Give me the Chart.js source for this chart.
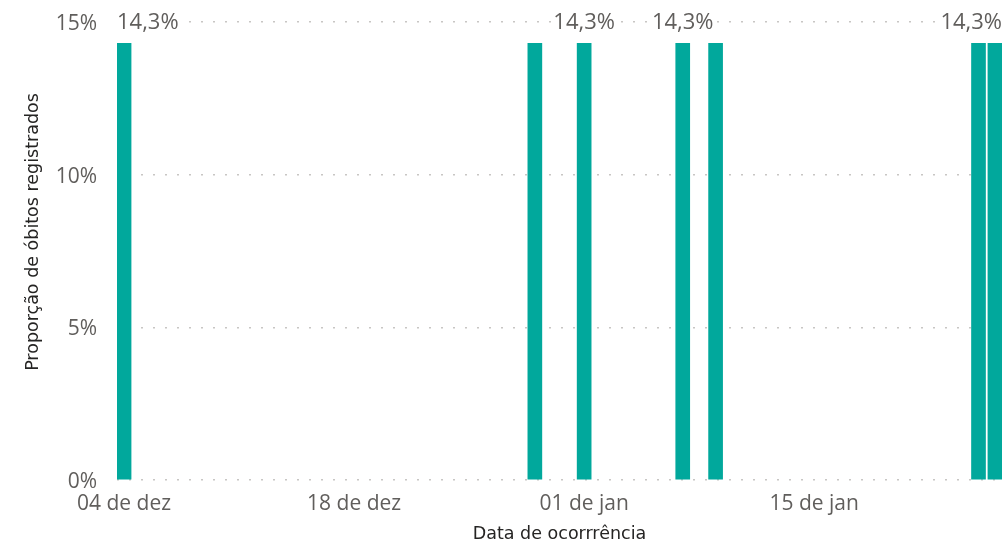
<!DOCTYPE html>
<html>
<head>
<meta charset="utf-8">
<script src="https://cdn.jsdelivr.net/npm/chart.js@4"></script>
<style>
  html, body { margin: 0; padding: 0; background: #fff; }
  #box { width: 1005px; height: 541px; }
</style>
</head>
<body>
<div id="box"><canvas id="myChart"></canvas></div>
<script>
// datas de ocorrência e proporção de óbitos (%)
const datas = ['2020-12-04', '2020-12-29', '2021-01-01', '2021-01-07', '2021-01-09', '2021-01-25', '2021-01-26']
const proporcao = [14.3, 14.3, 14.3, 14.3, 14.3, 14.3, 14.3]
// quais barras mostram o rótulo (o resto some por sobreposição)
const mostraRotulo = [true, false, true, true, false, false, true]

// marcas do eixo x
const ticksX = ['2020-12-04', '2020-12-18', '2021-01-01', '2021-01-15']
const ticksXLabels = ['04 de dez', '18 de dez', '01 de jan', '15 de jan']
const ticksY = [0, 5, 10, 15]
const tituloY = 'Proporção de óbitos registrados'

// dias desde a primeira data
function dias(d) {
  const base = Date.parse(datas[0] + 'T00:00:00Z')
  return Math.round((Date.parse(d + 'T00:00:00Z') - base) / 86400000)
}

const pontos = datas.map((d, i) => ({ x: dias(d), y: proporcao[i] }))
const posTicks = ticksX.map(dias)
const ultimo = dias(datas[datas.length - 1])

// rótulos de dados com fundo branco, presos dentro da área do gráfico
const rotulos = {
  id: 'rotulos',
  afterDatasetsDraw(chart) {
    const ctx = chart.ctx
    const area = chart.chartArea
    const meta = chart.getDatasetMeta(0)
    ctx.save()
    ctx.font = '22px "Open Sans"'
    ctx.textAlign = 'left'
    ctx.textBaseline = 'middle'
    meta.data.forEach((bar, i) => {
      if (!mostraRotulo[i]) return
      const txt = proporcao[i].toFixed(1).replace('.', ',') + '%'
      const w = ctx.measureText(txt).width
      let x = bar.x - w / 2
      if (x < area.left) x = area.left
      if (x + w > area.right) x = area.right - w
      const y = bar.y - 21
      ctx.fillStyle = '#fff'
      ctx.fillRect(x - 2, y - 9, w + 4, 18)
      ctx.fillStyle = '#605E5C'
      ctx.fillText(txt, x, y)
    })
    // título do eixo y (um pouco acima do centro, como no original)
    ctx.translate(33, 232)
    ctx.rotate(-Math.PI / 2)
    ctx.font = '17.5px "DejaVu Sans"'
    ctx.textAlign = 'center'
    ctx.fillStyle = '#252423'
    ctx.fillText(tituloY, 0, 0)
    ctx.restore()
  }
}

const ctx = document.getElementById('myChart').getContext('2d')

new Chart(ctx, {
  type: 'bar',
  data: {
    datasets: [
      {
        label: tituloY,
        data: pontos,
        backgroundColor: '#01A89C',
        barThickness: 14
      }
    ]
  },
  options: {
    responsive: true,
    maintainAspectRatio: false,
    animation: false,
    layout: { padding: { top: 22, right: 3, left: 0, bottom: 0 } },
    plugins: {
      legend: { display: false },
      tooltip: { enabled: false }
    },
    scales: {
      x: {
        type: 'linear',
        offset: false,
        min: -0.43,
        max: ultimo + 0.43,
        grid: { display: false, drawTicks: false, offset: false },
        border: { display: false },
        afterBuildTicks(scale) {
          scale.ticks = posTicks.map(v => ({ value: v }))
        },
        afterFit(scale) { scale.height = 61 },
        ticks: {
          padding: 11,
          maxRotation: 0,
          autoSkip: false,
          color: '#605E5C',
          font: { family: 'Open Sans', size: 21 },
          callback: (v) => ticksXLabels[posTicks.indexOf(v)]
        },
        title: {
          display: true,
          text: 'Data de ocorrrência',
          color: '#252423',
          font: { family: 'DejaVu Sans', size: 17.5 },
          padding: { top: 0, bottom: -4 }
        }
      },
      y: {
        min: 0,
        max: 15,
        afterBuildTicks(scale) {
          scale.ticks = ticksY.map(v => ({ value: v }))
        },
        afterFit(scale) {
          scale.width = 117
          scale.paddingTop = 0
          scale.paddingBottom = 0
        },
        grid: { color: '#C8C6C4', lineWidth: 1.5, drawTicks: false },
        border: { display: false, dash: [2, 10] },
        ticks: {
          padding: 20,
          labelOffset: 2,
          color: '#605E5C',
          font: { family: 'Open Sans', size: 21 },
          callback: (v) => v + '%'
        },
        title: { display: false }
      }
    }
  },
  plugins: [rotulos]
})
</script>
</body>
</html>
